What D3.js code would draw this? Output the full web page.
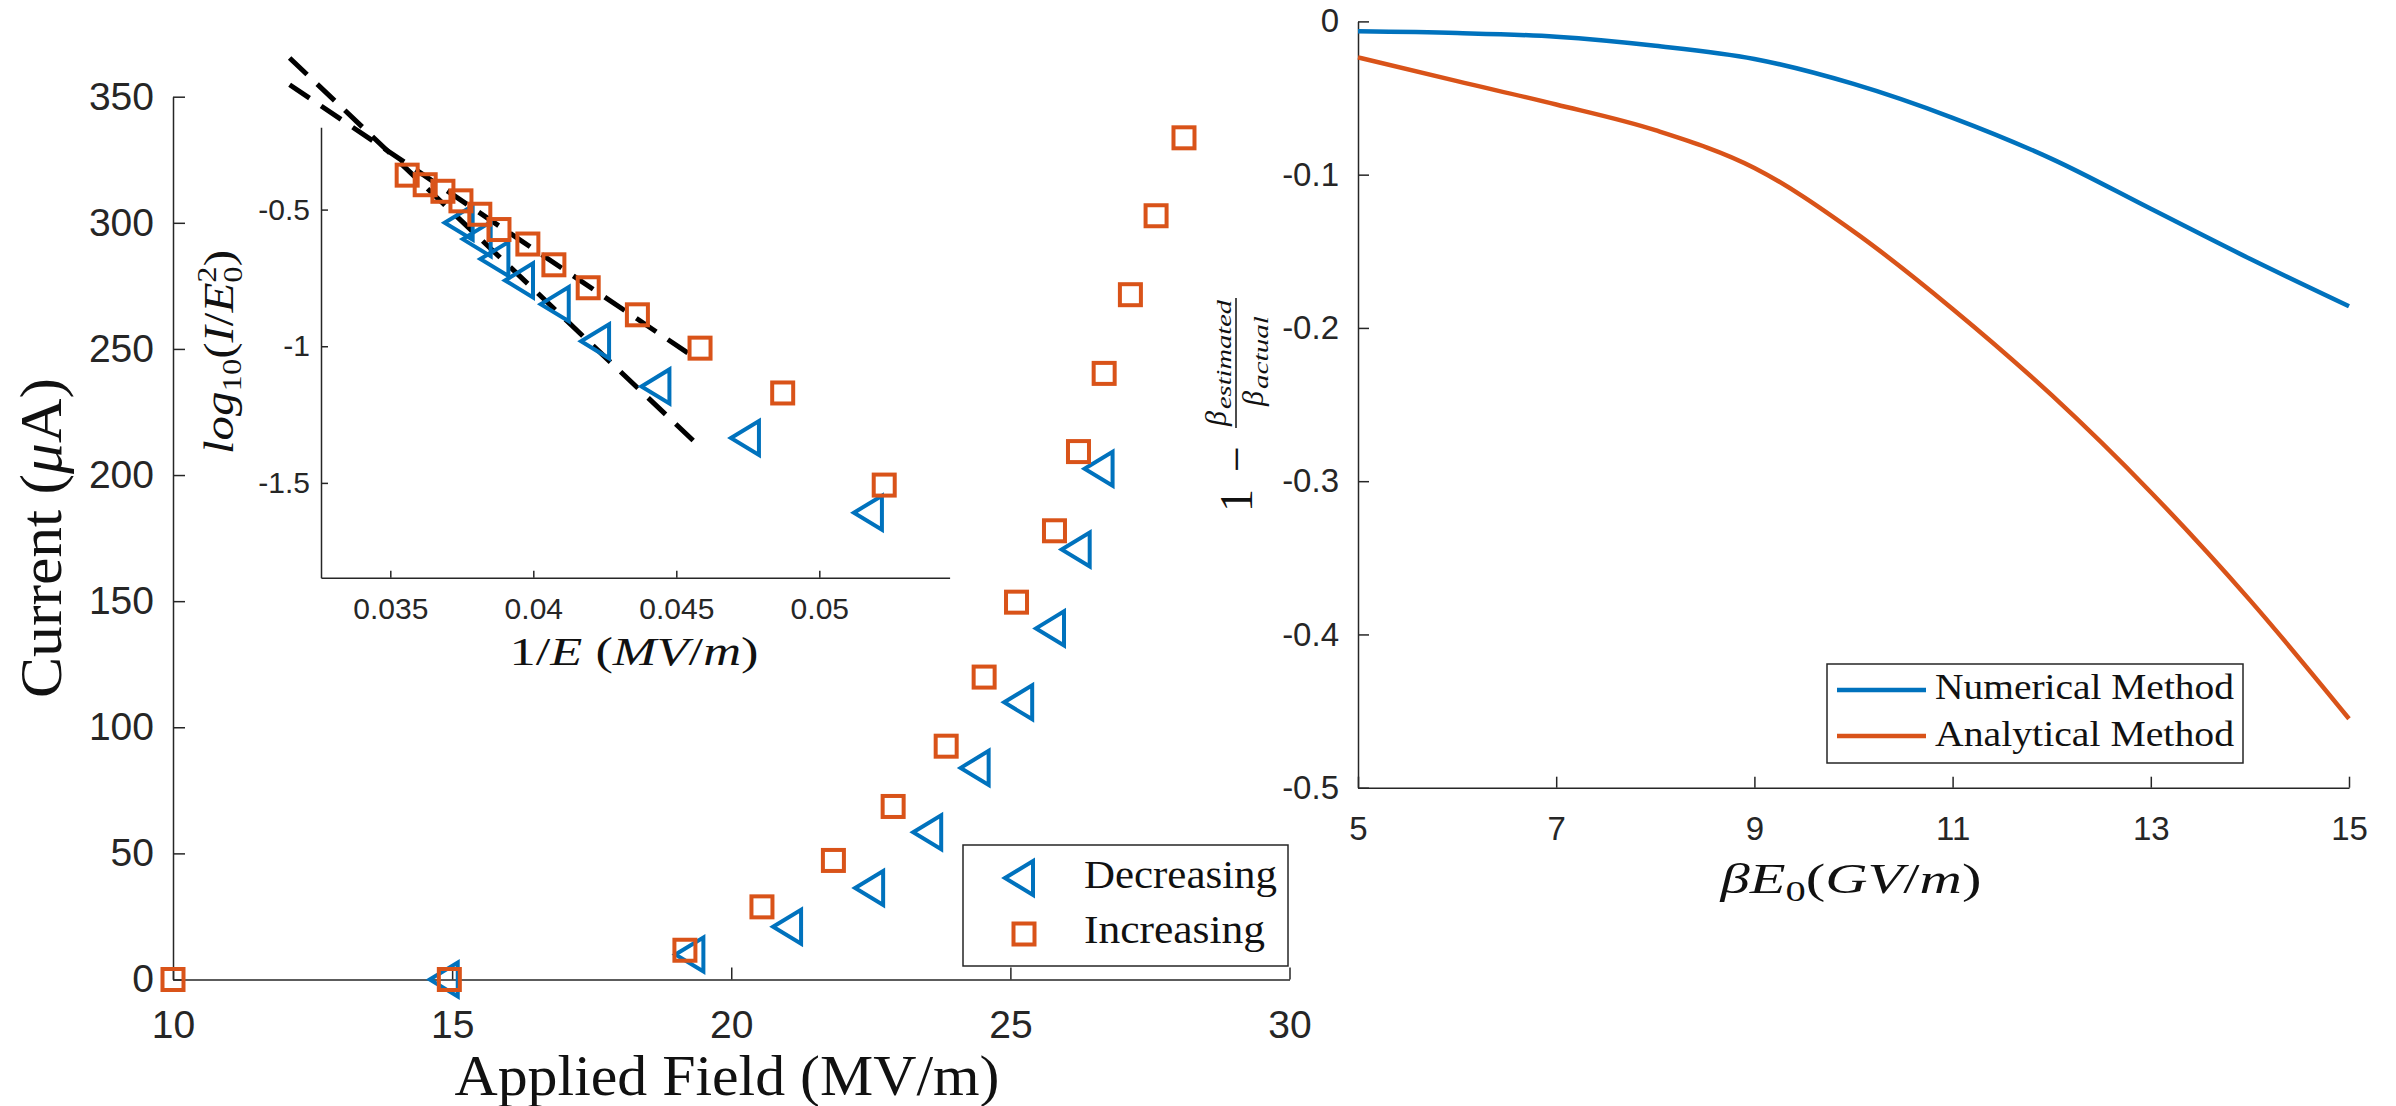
<!DOCTYPE html>
<html>
<head>
<meta charset="utf-8">
<script src="https://cdn.jsdelivr.net/npm/d3@7"></script>
<style>
body { margin: 0; background: #fff; }
</style>
</head>
<body>
<div id="chart"></div>
<script>
// main plot: emission current vs applied field
const decField = [14.85, 19.25, 21.0, 22.47, 23.51, 24.36, 25.14, 25.71, 26.17, 26.58];
const decCurrent = [0, 9.9, 20.9, 36.3, 58.4, 83.9, 109.9, 139.2, 170.5, 202.5];
const incField = [10.0, 14.95, 19.17, 20.55, 21.83, 22.9, 23.85, 24.53, 25.11, 25.79, 26.22, 26.68, 27.15, 27.61, 28.11];
const incCurrent = [0, 0, 11.6, 28.8, 47.2, 68.6, 92.5, 119.9, 149.6, 177.9, 209.3, 240.3, 271.5, 302.8, 333.7];

// inset: log10(I/E0^2) vs 1/E
const decInvE = [0.03739, 0.03802, 0.03864, 0.0395, 0.04075, 0.04216, 0.04427, 0.0474, 0.0517];
const decLog = [-0.548, -0.608, -0.681, -0.759, -0.846, -0.982, -1.147, -1.336, -1.609];
const incInvE = [0.03559, 0.03622, 0.03684, 0.03747, 0.03813, 0.0388, 0.03981, 0.04072, 0.04192, 0.04364, 0.04583, 0.04872, 0.05227];
const incLog = [-0.374, -0.409, -0.433, -0.468, -0.517, -0.573, -0.626, -0.702, -0.786, -0.885, -1.007, -1.171, -1.508];
const fitDecX = [0.03148, 0.04562];
const fitDecY = [0.0546, -1.348];
const fitIncX = [0.03148, 0.04562];
const fitIncY = [-0.0433, -1.040];

// right plot: error in beta
const betaE0 = [5, 6, 7, 8, 9, 10, 11, 12, 13, 14, 15];
const numerical = [-0.0065, -0.0076, -0.0100, -0.0159, -0.0245, -0.0408, -0.0629, -0.0897, -0.1223, -0.1549, -0.1859];
const analytical = [-0.0235, -0.0390, -0.0542, -0.0710, -0.0956, -0.1370, -0.1876, -0.2439, -0.3072, -0.3776, -0.4550];

// ticks
const mainXTicks = [10, 15, 20, 25, 30];
const mainXLabels = ["10", "15", "20", "25", "30"];
const mainYTicks = [0, 50, 100, 150, 200, 250, 300, 350];
const mainYLabels = ["0", "50", "100", "150", "200", "250", "300", "350"];
const insetXTicks = [0.035, 0.04, 0.045, 0.05];
const insetXLabels = ["0.035", "0.04", "0.045", "0.05"];
const insetYTicks = [-0.5, -1, -1.5];
const insetYLabels = ["-0.5", "-1", "-1.5"];
const rightXTicks = [5, 7, 9, 11, 13, 15];
const rightXLabels = ["5", "7", "9", "11", "13", "15"];
const rightYTicks = [0, -0.1, -0.2, -0.3, -0.4, -0.5];
const rightYLabels = ["0", "-0.1", "-0.2", "-0.3", "-0.4", "-0.5"];

const blue = "#0072BD";
const orange = "#D95319";
const axisColor = "#262626";
const serif = "'Liberation Serif', 'Times New Roman', serif";
const sans = "'Liberation Sans', Arial, sans-serif";

const svg = d3.select("#chart")
    .append("svg")
    .attr("width", 2396)
    .attr("height", 1106)
    .style("background", "#fff");

// scales
const xMain = d3.scaleLinear().domain([10, 30]).range([173, 1289.5]);
const yMain = d3.scaleLinear().domain([0, 350]).range([979.5, 96.7]);
const xInset = d3.scaleLinear().domain([0.032577, 0.054556]).range([321, 949.6]);
const yInset = d3.scaleLinear().domain([-1.8469, -0.1989]).range([577.7, 127.3]);
const xRight = d3.scaleLinear().domain([5, 15]).range([1358, 2349]);
const yRight = d3.scaleLinear().domain([-0.5, 0]).range([787.7, 21.4]);

function drawAxes(x, y, o) {
    const g = svg.append("g");
    const bottom = d3.axisBottom(x)
        .tickValues(o.xt)
        .tickFormat((d, i) => o.xl[i])
        .tickSizeInner(-o.tick)
        .tickSizeOuter(0)
        .tickPadding(o.xpad);
    const left = d3.axisLeft(y)
        .tickValues(o.yt)
        .tickFormat((d, i) => o.yl[i])
        .tickSizeInner(-o.tick)
        .tickSizeOuter(0)
        .tickPadding(o.ypad);
    g.append("g")
        .attr("transform", `translate(0,${y.range()[0]})`)
        .call(bottom);
    g.append("g")
        .attr("transform", `translate(${x.range()[0]},0)`)
        .call(left);
    g.selectAll("text")
        .attr("font-family", sans)
        .attr("font-size", o.fs)
        .attr("fill", axisColor);
    g.selectAll(".domain, .tick line")
        .attr("stroke", axisColor)
        .attr("stroke-width", 1.5);
    return g;
}

const triPath = "M-14,0L14,-17L14,17Z";

function drawTriangles(xs, ys, x, y) {
    svg.append("g").selectAll("path")
        .data(xs.map((d, i) => [d, ys[i]]))
        .join("path")
        .attr("d", triPath)
        .attr("transform", d => `translate(${x(d[0])},${y(d[1])})`)
        .attr("fill", "none")
        .attr("stroke", blue)
        .attr("stroke-width", 4);
}

function drawSquares(xs, ys, x, y) {
    svg.append("g").selectAll("rect")
        .data(xs.map((d, i) => [d, ys[i]]))
        .join("rect")
        .attr("x", d => x(d[0]) - 10.5)
        .attr("y", d => y(d[1]) - 10.5)
        .attr("width", 21)
        .attr("height", 21)
        .attr("fill", "none")
        .attr("stroke", orange)
        .attr("stroke-width", 4);
}

// ---------- main plot ----------
drawAxes(xMain, yMain, {
    xt: mainXTicks, xl: mainXLabels, yt: mainYTicks, yl: mainYLabels,
    tick: 12, xpad: 31, ypad: 19, fs: 39
});
drawTriangles(decField, decCurrent, xMain, yMain);
drawSquares(incField, incCurrent, xMain, yMain);

svg.append("text")
    .attr("transform", "translate(61,538) rotate(-90)")
    .attr("text-anchor", "middle")
    .attr("font-family", serif)
    .attr("font-size", 60)
    .attr("fill", "#111")
    .attr("textLength", 320)
    .attr("lengthAdjust", "spacingAndGlyphs")
    .html("Current (<tspan font-style='italic'>μ</tspan>A)");

svg.append("text")
    .attr("x", 727)
    .attr("y", 1095)
    .attr("text-anchor", "middle")
    .attr("font-family", serif)
    .attr("font-size", 57)
    .attr("fill", "#111")
    .attr("textLength", 545)
    .attr("lengthAdjust", "spacingAndGlyphs")
    .text("Applied Field (MV/m)");

// legend
const legL = svg.append("g");
legL.append("rect")
    .attr("x", 963).attr("y", 845).attr("width", 325).attr("height", 121)
    .attr("fill", "#fff").attr("stroke", axisColor).attr("stroke-width", 1.5);
legL.append("path")
    .attr("d", triPath)
    .attr("transform", "translate(1019,878)")
    .attr("fill", "none").attr("stroke", blue).attr("stroke-width", 4);
legL.append("rect")
    .attr("x", 1013.5).attr("y", 923.5).attr("width", 21).attr("height", 21)
    .attr("fill", "none").attr("stroke", orange).attr("stroke-width", 4);
[["Decreasing", 888, 193], ["Increasing", 943, 181]].forEach(([t, yy, len]) => {
    legL.append("text")
        .attr("x", 1084).attr("y", yy)
        .attr("font-family", serif).attr("font-size", 40).attr("fill", "#111")
        .attr("textLength", len).attr("lengthAdjust", "spacingAndGlyphs")
        .text(t);
});

// ---------- inset ----------
drawAxes(xInset, yInset, {
    xt: insetXTicks, xl: insetXLabels, yt: insetYTicks, yl: insetYLabels,
    tick: 7, xpad: 20, ypad: 11, fs: 30
});

const fitLine = d3.line().x(d => xInset(d[0])).y(d => yInset(d[1]));
[[fitDecX, fitDecY], [fitIncX, fitIncY]].forEach(([xs, ys]) => {
    svg.append("path")
        .attr("d", fitLine(xs.map((d, i) => [d, ys[i]])))
        .attr("fill", "none")
        .attr("stroke", "#000")
        .attr("stroke-width", 5)
        .attr("stroke-dasharray", "24,14");
});
drawTriangles(decInvE, decLog, xInset, yInset);
drawSquares(incInvE, incLog, xInset, yInset);

svg.append("text")
    .attr("x", 634)
    .attr("y", 665)
    .attr("text-anchor", "middle")
    .attr("font-family", serif)
    .attr("font-size", 40)
    .attr("fill", "#111")
    .attr("textLength", 249)
    .attr("lengthAdjust", "spacingAndGlyphs")
    .html("1/<tspan font-style='italic'>E</tspan> (<tspan font-style='italic'>MV</tspan>/<tspan font-style='italic'>m</tspan>)");

svg.append("text")
    .attr("transform", "translate(233,352) rotate(-90)")
    .attr("text-anchor", "middle")
    .attr("font-family", serif)
    .attr("font-size", 42)
    .attr("fill", "#111")
    .attr("textLength", 204)
    .attr("lengthAdjust", "spacingAndGlyphs")
    .html("<tspan font-style='italic'>log</tspan><tspan font-size='28' dy='8'>10</tspan><tspan dy='-8'>(</tspan><tspan font-style='italic'>I</tspan>/<tspan font-style='italic'>E</tspan><tspan font-size='28' dy='9'>0</tspan><tspan font-size='28' dx='-14' dy='-26'>2</tspan><tspan dy='17'>)</tspan>");

// ---------- right plot ----------
drawAxes(xRight, yRight, {
    xt: rightXTicks, xl: rightXLabels, yt: rightYTicks, yl: rightYLabels,
    tick: 11, xpad: 29, ypad: 19, fs: 33
});

const curve = d3.line()
    .x(d => xRight(d[0]))
    .y(d => yRight(d[1]))
    .curve(d3.curveMonotoneX);
[[numerical, blue], [analytical, orange]].forEach(([vals, c]) => {
    svg.append("path")
        .attr("d", curve(betaE0.map((d, i) => [d, vals[i]])))
        .attr("fill", "none")
        .attr("stroke", c)
        .attr("stroke-width", 4.5);
});

// legend
const legR = svg.append("g");
legR.append("rect")
    .attr("x", 1827).attr("y", 664).attr("width", 416).attr("height", 99)
    .attr("fill", "#fff").attr("stroke", axisColor).attr("stroke-width", 1.5);
[["Numerical Method", blue, 690, 699], ["Analytical Method", orange, 736, 746]].forEach(([t, c, ly, ty]) => {
    legR.append("line")
        .attr("x1", 1837).attr("x2", 1926).attr("y1", ly).attr("y2", ly)
        .attr("stroke", c).attr("stroke-width", 4.5);
    legR.append("text")
        .attr("x", 1935).attr("y", ty)
        .attr("font-family", serif).attr("font-size", 35).attr("fill", "#111")
        .attr("textLength", 299).attr("lengthAdjust", "spacingAndGlyphs")
        .text(t);
});

svg.append("text")
    .attr("x", 1851)
    .attr("y", 893)
    .attr("text-anchor", "middle")
    .attr("font-family", serif)
    .attr("font-size", 42)
    .attr("fill", "#111")
    .attr("textLength", 261)
    .attr("lengthAdjust", "spacingAndGlyphs")
    .html("<tspan font-style='italic'>βE</tspan><tspan font-size='29' dy='8'>0</tspan><tspan dy='-8'>(</tspan><tspan font-style='italic'>GV</tspan>/<tspan font-style='italic'>m</tspan>)");

// y label: 1 - beta_estimated / beta_actual
const yl = svg.append("g")
    .attr("transform", "translate(1252,512) rotate(-90)")
    .attr("font-family", serif)
    .attr("fill", "#111");
yl.append("text").attr("x", 0).attr("y", 0).attr("font-size", 46).text("1");
yl.append("text").attr("x", 40).attr("y", 0).attr("font-size", 46).text("−");
yl.append("line")
    .attr("x1", 84).attr("x2", 214).attr("y1", -16).attr("y2", -16)
    .attr("stroke", "#111").attr("stroke-width", 1.5);
// numerator
yl.append("text").attr("x", 86).attr("y", -26)
    .attr("font-style", "italic").attr("font-size", 30).text("β");
yl.append("text").attr("x", 103).attr("y", -21)
    .attr("font-style", "italic").attr("font-size", 22)
    .attr("textLength", 109).attr("lengthAdjust", "spacingAndGlyphs")
    .text("estimated");
// denominator
yl.append("text").attr("x", 106).attr("y", 11)
    .attr("font-style", "italic").attr("font-size", 30).text("β");
yl.append("text").attr("x", 123).attr("y", 16)
    .attr("font-style", "italic").attr("font-size", 22)
    .attr("textLength", 73).attr("lengthAdjust", "spacingAndGlyphs")
    .text("actual");
</script>
</body>
</html>
